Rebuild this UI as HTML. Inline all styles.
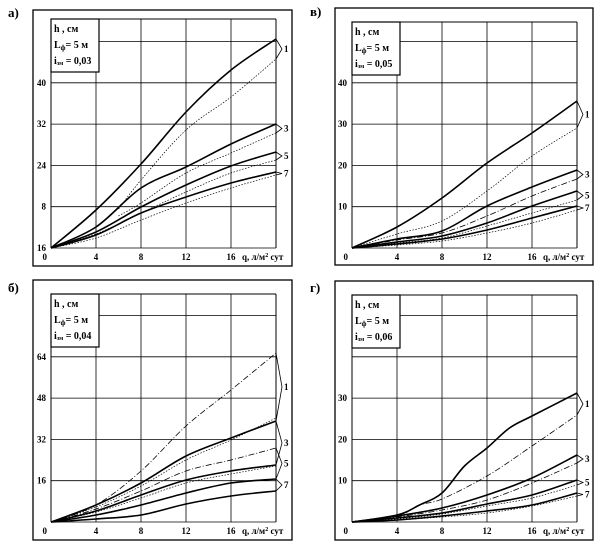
<!DOCTYPE html>
<html><head><meta charset="utf-8"><style>
html,body{margin:0;padding:0;background:#fff}
svg{display:block}
text{font-family:"Liberation Serif",serif;fill:#000}
</style></head><body>
<svg id="s" width="603" height="550" viewBox="0 0 603 550" xmlns="http://www.w3.org/2000/svg"></svg>
<script>
const S=document.getElementById('s');
let h='';
function smooth(P){
 let d=`M${P[0][0].toFixed(1)},${P[0][1].toFixed(1)}`;
 for(let i=0;i<P.length-1;i++){
  const p0=P[i-1]||P[i],p1=P[i],p2=P[i+1],p3=P[i+2]||P[i+1];
  const c1=[p1[0]+(p2[0]-p0[0])/6,p1[1]+(p2[1]-p0[1])/6];
  const c2=[p2[0]-(p3[0]-p1[0])/6,p2[1]-(p3[1]-p1[1])/6];
  d+=` C${c1[0].toFixed(1)},${c1[1].toFixed(1)} ${c2[0].toFixed(1)},${c2[1].toFixed(1)} ${p2[0].toFixed(1)},${p2[1].toFixed(1)}`;
 }
 return d;
}
function panel(o){
 const {L,B,T,fr,letter,lx,ly,ilabel,ylab,curves,tags}=o;
 const R=L+225;
 h+=`<rect x="${fr[0]}" y="${fr[1]}" width="${fr[2]-fr[0]}" height="${fr[3]-fr[1]}" fill="none" stroke="#000" stroke-width="1.3"/>`;
 h+=`<text x="${lx}" y="${ly}" font-size="13" font-weight="bold">${letter}</text>`;
 for(let k=0;k<=5;k++){const x=L+k*45;h+=`<line x1="${x}" y1="${T}" x2="${x}" y2="${B}" stroke="#000" stroke-width="${k==0||k==5?1:0.8}"/>`;}
 for(let k=0;k<=5;k++){const y=B-k*41.3;h+=`<line x1="${L}" y1="${y}" x2="${R}" y2="${y}" stroke="#000" stroke-width="0.8"/>`;}
 h+=`<line x1="${L}" y1="${T}" x2="${R}" y2="${T}" stroke="#000" stroke-width="1"/>`;
 h+=`<rect x="${L}" y="${T}" width="48" height="53" fill="#fff" stroke="#000" stroke-width="1.2"/>`;
 h+=`<text x="${L+3}" y="${T+13}" font-size="10" font-weight="bold">h , см</text>`;
 h+=`<text x="${L+3}" y="${T+29}" font-size="10" font-weight="bold">L<tspan font-size="7" dy="2">ф</tspan><tspan dy="-2">= 5 м</tspan></text>`;
 h+=`<text x="${L+3}" y="${T+45}" font-size="10" font-weight="bold">i<tspan font-size="6" dy="1">зм</tspan><tspan dy="-1"> = ${ilabel}</tspan></text>`;
 for(const [k,t] of ylab){h+=`<text x="${L-5}" y="${B-k*41.3+3}" font-size="9" font-weight="bold" text-anchor="end">${t}</text>`;}
 h+=`<text x="${L-4}" y="${B+12}" font-size="9" font-weight="bold" text-anchor="end">0</text>`;
 for(let k=1;k<=4;k++)h+=`<text x="${L+k*45}" y="${B+12}" font-size="9" font-weight="bold" text-anchor="middle">${k*4}</text>`;
 h+=`<text x="${L+191}" y="${B+12}" font-size="9" font-weight="bold">q, л/м<tspan font-size="6" dy="-3">2</tspan><tspan dy="3"> сут</tspan></text>`;
 for(const c of curves){
  const P=c.p.map(p=>[L+p[0]*11.25,B-p[1]]);
  let st=c.s=='s'?'stroke-width="1.6"':c.s=='d'?'stroke-width="0.7" stroke-dasharray="1.5,1.5"':'stroke-width="0.8" stroke-dasharray="6,2,1,2"';
  h+=`<path d="${smooth(P)}" fill="none" stroke="#000" ${st} stroke-linejoin="round"/>`;
 }
 for(const [y1,y2,t] of tags){
  const m=(y1+y2)/2;
  h+=`<polyline points="${R},${B-y1} ${R+6},${B-m} ${R},${B-y2}" fill="none" stroke="#000" stroke-width="0.8"/>`;
  h+=`<text x="${R+8}" y="${B-m+3}" font-size="9" font-weight="bold">${t}</text>`;
 }
}
const Z=[0,0];
panel({L:51,B:248,T:19,fr:[33,10,292,266],letter:'а)',lx:8,ly:17,ilabel:'0,03',
 ylab:[[0,'16'],[1,'8'],[2,'24'],[3,'32'],[4,'40']],
 curves:[
 {s:'s',p:[Z,[4,38],[8,84],[12,136],[16,178],[20,209]]},
 {s:'d',p:[[6,39],[8,68],[12,118],[16,151],[20,189]]},
 {s:'s',p:[Z,[4,21],[8,60],[12,81],[16,104],[20,124]]},
 {s:'d',p:[[6,32],[8,45],[12,75],[16,95],[20,115]]},
 {s:'s',p:[Z,[4,16],[8,41],[12,63],[16,82],[20,96]]},
 {s:'d',p:[Z,[4,14],[8,35],[12,56],[16,75],[20,88]]},
 {s:'s',p:[Z,[4,13],[8,35],[12,51],[16,65],[20,76]]},
 {s:'d',p:[Z,[4,10],[8,28],[12,45],[16,60],[20,73]]}],
 tags:[[209,189,'1'],[124,115,'3'],[96,88,'5'],[76,73,'7']]});
panel({L:352,B:248,T:22,fr:[335,8,593,265],letter:'в)',lx:310,ly:16,ilabel:'0,05',
 ylab:[[1,'10'],[2,'20'],[3,'30'],[4,'40']],
 curves:[
 {s:'s',p:[Z,[4,21],[8,50],[12,85],[16,115],[20,147]]},
 {s:'d',p:[Z,[4,14],[8,27],[12,57],[16,92],[20,120]]},
 {s:'s',p:[Z,[4,9],[8,17],[12,42],[16,61],[20,78]]},
 {s:'dd',p:[Z,[4,8],[8,15],[12,32],[16,52],[20,69]]},
 {s:'s',p:[Z,[4,6],[8,12],[12,25],[16,42],[20,57]]},
 {s:'d',p:[Z,[4,5],[8,10],[12,22],[16,35],[20,48]]},
 {s:'s',p:[Z,[4,4],[8,9],[12,18],[16,30],[20,42]]},
 {s:'d',p:[Z,[4,3],[8,7],[12,15],[16,25],[20,38]]}],
 tags:[[147,120,'1'],[78,69,'3'],[57,48,'5'],[42,38,'7']]});
panel({L:51,B:522,T:294,fr:[33,280,292,540],letter:'б)',lx:8,ly:292,ilabel:'0,04',
 ylab:[[1,'16'],[2,'32'],[3,'48'],[4,'64']],
 curves:[
 {s:'dd',p:[Z,[4,17],[8,51],[12,96],[16,132],[20,169]]},
 {s:'s',p:[Z,[4,17],[8,39],[12,66],[16,84],[20,101]]},
 {s:'d',p:[Z,[4,15],[8,36],[12,62],[16,82],[20,104]]},
 {s:'dd',p:[Z,[4,13],[8,31],[12,51],[16,62],[20,74]]},
 {s:'s',p:[Z,[4,11],[8,27],[12,42],[16,51],[20,57]]},
 {s:'d',p:[Z,[4,10],[8,24],[12,39],[16,48],[20,56]]},
 {s:'s',p:[Z,[4,7],[8,17],[12,29],[16,39],[20,43]]},
 {s:'s',p:[Z,[4,3],[8,7],[12,18],[16,26],[20,31]]}],
 tags:[[169,101,'1'],[101,57,'3'],[74,43,'5'],[43,31,'7']]});
panel({L:352,B:522,T:295,fr:[335,281,593,540],letter:'г)',lx:310,ly:292,ilabel:'0,06',
 ylab:[[1,'10'],[2,'20'],[3,'30']],
 curves:[
 {s:'s',p:[Z,[4,7],[6,17],[8,29],[10,56],[12,74],[14,94],[16,106],[20,129]]},
 {s:'dd',p:[Z,[4,6],[6,17],[8,23],[12,46],[16,76],[20,107]]},
 {s:'s',p:[Z,[4,6],[8,14],[12,27],[16,44],[20,67]]},
 {s:'dd',p:[Z,[4,5],[8,12],[12,22],[16,39],[20,59]]},
 {s:'s',p:[Z,[4,4],[8,9],[12,18],[16,27],[20,42]]},
 {s:'d',p:[Z,[4,3],[8,8],[12,16],[16,24],[20,37]]},
 {s:'s',p:[Z,[4,2],[8,6],[12,11],[16,17],[20,29]]},
 {s:'d',p:[Z,[4,2],[8,5],[12,9],[16,16],[20,26]]}],
 tags:[[129,107,'1'],[67,59,'3'],[42,37,'5'],[29,26,'7']]});
S.innerHTML=h;
</script>
</body></html>
